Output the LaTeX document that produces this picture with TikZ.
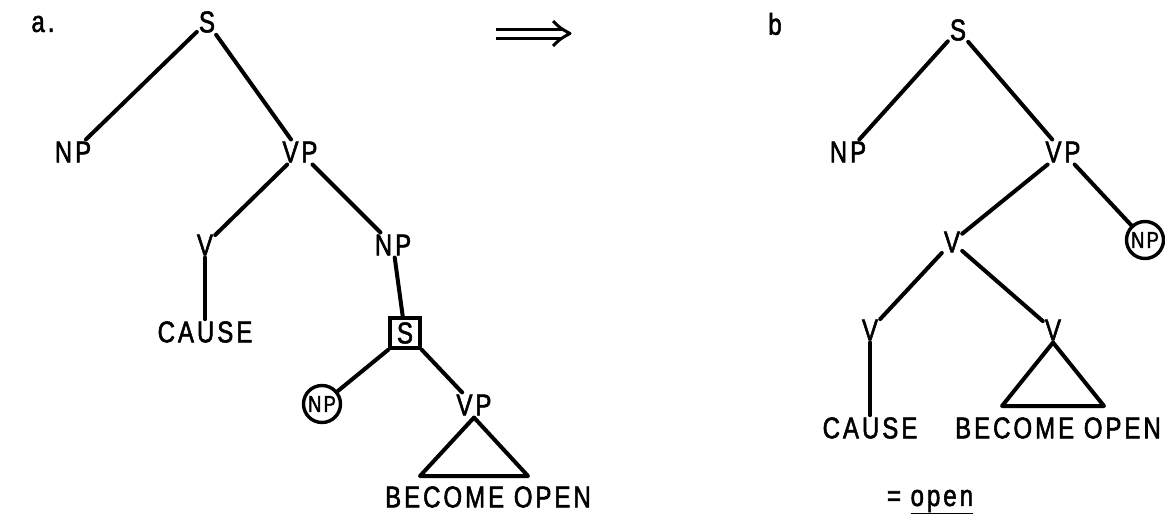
\documentclass[tikz,border=0pt]{standalone}
\usepackage{fontspec}
\setmainfont[FakeStretch=0.8,LetterSpace=10,FakeBold=1.8]{Liberation Sans}
\begin{document}
\begin{tikzpicture}[x=1pt,y=-1pt,
  lbl/.style={inner sep=2pt,font=\fontsize{30}{32}\selectfont},
  edge/.style={line width=4pt,line cap=round},
  boxed/.style={lbl,draw,line width=3.4pt,inner sep=3pt,minimum size=30pt},
  circled/.style={lbl,draw,circle,line width=3.4pt,inner sep=0pt,minimum size=37pt,font=\fontsize{23}{25}\selectfont}]
\useasboundingbox (0,0) rectangle (1165,523);
% tree a
\node[lbl] (la) at (43,24) {a.};
\node[lbl] (aS) at (207,22) {S};
\node[lbl] (aNP) at (73,152) {NP};
\node[lbl] (aVP) at (300,152) {VP};
\node[lbl] (aV) at (205,245) {V};
\node[lbl] (aNP2) at (393,245) {NP};
\node[lbl] (aCAUSE) at (205,332) {CAUSE};
\node[boxed] (aS2) at (405,333) {S};
\node[circled] (aNP3) at (322,404) {NP};
\node[lbl] (aVP2) at (474,405) {VP};
\coordinate (aT1) at (420,476);
\coordinate (aT2) at (528,476);
\node[lbl] (aBO) at (488,497) {BECOME OPEN};
\draw[edge] (aS) -- (aNP);
\draw[edge] (aS) -- (aVP);
\draw[edge] (aVP) -- (aV);
\draw[edge] (aVP) -- (aNP2);
\draw[edge] (aV) -- (aCAUSE);
\draw[edge] (aNP2) -- (aS2);
\draw[edge] (aS2.south west) -- (aNP3);
\draw[edge] (aS2.south east) -- (aVP2);
\draw[edge,line join=round] (aVP2.south) -- (aT2) -- (aT1) -- cycle;
% arrow
\coordinate (ar1) at (496,29);
\coordinate (ar2) at (562,29);
\coordinate (ar3) at (496,38);
\coordinate (ar4) at (562,38);
\coordinate (ah1) at (553,21);
\coordinate (ah2) at (570,33.5);
\coordinate (ah3) at (553,46);
\draw[line width=3pt] (ar1) -- (ar2);
\draw[line width=3pt] (ar3) -- (ar4);
\draw[line width=3pt,line join=round] (ah1) .. controls (560,28) .. (ah2) .. controls (560,39) .. (ah3);
% tree b
\node[lbl] (lb) at (775,24) {b};
\node[lbl] (bS) at (958,30) {S};
\node[lbl] (bNP) at (848,152) {NP};
\node[lbl] (bVP) at (1063,152) {VP};
\node[lbl] (bV) at (952,242) {V};
\node[circled] (bNP2) at (1145,240) {NP};
\node[lbl] (bV2) at (870,330) {V};
\node[lbl] (bV3) at (1053,330) {V};
\coordinate (bT1) at (1002,406);
\coordinate (bT2) at (1104,406);
\node[lbl] (bCAUSE) at (870,428) {CAUSE};
\node[lbl] (bBO) at (1058,428) {BECOME OPEN};
\node[lbl] (beq) at (930,502) {= \underline{open}};
\draw[edge] (bS) -- (bNP);
\draw[edge] (bS) -- (bVP);
\draw[edge] (bVP) -- (bV);
\draw[edge] (bVP) -- (bNP2);
\draw[edge] (bV) -- (bV2);
\draw[edge] (bV) -- (bV3);
\draw[edge] (bV2) -- (bCAUSE);
\draw[edge,line join=round] (bV3.south) -- (bT2) -- (bT1) -- cycle;
\end{tikzpicture}
\end{document}
